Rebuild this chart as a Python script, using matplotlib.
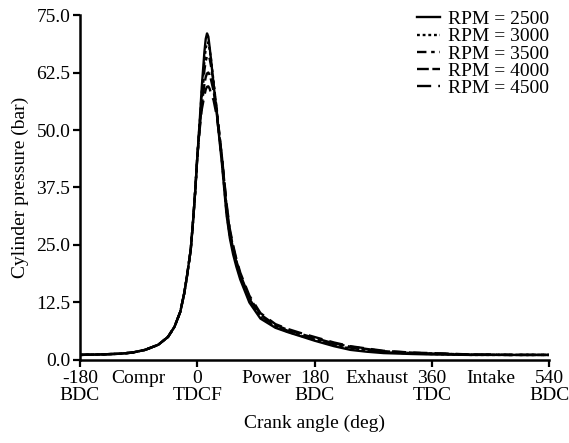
import matplotlib
matplotlib.use("Agg")
import matplotlib.pyplot as plt

plt.rcParams['font.family'] = ['Liberation Serif', 'DejaVu Serif']

# crank angle (deg) and cylinder pressure (bar)
theta = [-180, -150, -120, -100, -80, -60, -45, -35, -26, -20, -16, -10, -6, -3, 0,
         4, 7, 11, 13, 15, 17, 19, 21, 25, 30, 38, 45, 50, 55, 60, 66, 80, 97,
         120, 140, 158, 180, 210, 235, 260, 286, 330, 360, 420, 480, 540]

p2500 = [1.1, 1.2, 1.35, 1.6, 2.2, 3.3, 5.0, 7.2, 10.5, 14.5, 18.0, 24.0, 31.0, 37.0, 44.0,
         52.5, 59.5, 67.0, 69.8, 71.0, 70.3, 68.0, 65.5, 60.0, 53.5, 42.5, 31.5, 26.5, 23.0, 20.3, 17.5, 12.5, 9.0,
         7.0, 6.0, 5.2, 4.2, 3.0, 2.2, 1.8, 1.5, 1.3, 1.2, 1.1, 1.1, 1.1]
p3000 = [1.1, 1.2, 1.35, 1.6, 2.2, 3.3, 5.0, 7.2, 10.5, 14.5, 18.0, 24.0, 31.0, 37.0, 44.0,
         52.0, 58.5, 65.0, 67.8, 69.0, 69.0, 67.5, 65.5, 60.5, 54.0, 43.0, 32.0, 27.0, 23.8, 21.0, 18.0, 13.0, 9.3,
         7.2, 6.1, 5.3, 4.4, 3.2, 2.5, 2.0, 1.7, 1.4, 1.3, 1.1, 1.1, 1.1]
p3500 = [1.1, 1.2, 1.35, 1.6, 2.2, 3.3, 5.0, 7.2, 10.5, 14.5, 18.0, 24.0, 31.0, 37.0, 44.0,
         51.5, 57.0, 63.0, 65.0, 66.0, 66.2, 65.5, 64.0, 60.0, 54.5, 43.5, 33.0, 27.5, 24.3, 21.3, 18.3, 13.3, 9.6,
         7.4, 6.3, 5.5, 4.6, 3.4, 2.7, 2.2, 1.8, 1.5, 1.4, 1.2, 1.1, 1.1]
p4000 = [1.1, 1.2, 1.35, 1.6, 2.2, 3.3, 5.0, 7.2, 10.5, 14.5, 18.0, 24.0, 31.0, 37.0, 44.0,
         51.0, 55.5, 60.0, 61.5, 62.3, 62.5, 62.0, 61.0, 58.5, 54.0, 44.0, 33.5, 28.0, 24.6, 21.6, 18.6, 13.6, 9.9,
         7.6, 6.5, 5.7, 4.8, 3.6, 2.9, 2.4, 1.9, 1.6, 1.4, 1.2, 1.1, 1.1]
p4500 = [1.1, 1.2, 1.35, 1.6, 2.2, 3.3, 5.0, 7.2, 10.5, 14.5, 18.0, 24.0, 31.0, 37.0, 44.0,
         50.5, 54.5, 57.5, 58.8, 59.4, 59.5, 59.0, 58.0, 56.5, 53.0, 44.0, 34.0, 28.5, 25.0, 22.0, 19.0, 14.0, 10.2,
         7.8, 6.7, 5.9, 5.0, 3.8, 3.0, 2.5, 2.0, 1.6, 1.5, 1.2, 1.1, 1.1]

series = [p2500, p3000, p3500, p4000, p4500]
labels = ['RPM = 2500', 'RPM = 3000', 'RPM = 3500', 'RPM = 4000', 'RPM = 4500']
dashes = [None, (1.2, 1.2), (4, 2, 1.5, 2), (5, 1.5), (6, 3)]

xticks = [-180, 0, 180, 360, 540]
xticklabels = ['-180\nBDC', '0\nTDCF', '180\nBDC', '360\nTDC', '540\nBDC']
yticks = [0, 12.5, 25, 37.5, 50, 62.5, 75]
phases = ['Compr', 'Power', 'Exhaust', 'Intake']
phase_pos = [-91, 106, 276, 451]

fs = 14

fig = plt.figure(figsize=(5.69, 4.43), dpi=100)
ax = fig.add_axes([0.1406, 0.1874, 0.8243, 0.7787])

for p, lab, d in zip(series, labels, dashes):
    line, = ax.plot(theta, p, color='black', lw=1.7, label=lab)
    if d is not None:
        line.set_dashes(d)

ax.set_xlim(-180, 540)
ax.set_ylim(0, 75)
ax.set_xticks(xticks)
ax.set_xticklabels(xticklabels, linespacing=1.0)
ax.set_yticks(yticks)
ax.set_yticklabels(['%.1f' % v for v in yticks])
ax.tick_params(direction='out', length=5, width=1.6, labelsize=fs, pad=2)

for s in ['top', 'right']:
    ax.spines[s].set_visible(False)
for s in ['left', 'bottom']:
    ax.spines[s].set_linewidth(1.8)

for name, xp in zip(phases, phase_pos):
    ax.annotate(name, xy=(xp, 0), xycoords=('data', 'axes fraction'),
                xytext=(0, -7), textcoords='offset points',
                ha='center', va='top', fontsize=fs)

ax.set_xlabel('Crank angle (deg)', fontsize=fs, labelpad=8)
ax.set_ylabel('Cylinder pressure (bar)', fontsize=fs, labelpad=5)

leg = ax.legend(loc='upper right', bbox_to_anchor=(1.0, 1.013), frameon=False,
                fontsize=fs, handlelength=1.2, handletextpad=0.4,
                labelspacing=-0.02, borderaxespad=0, borderpad=0)

fig.savefig('out.png', dpi=100)
